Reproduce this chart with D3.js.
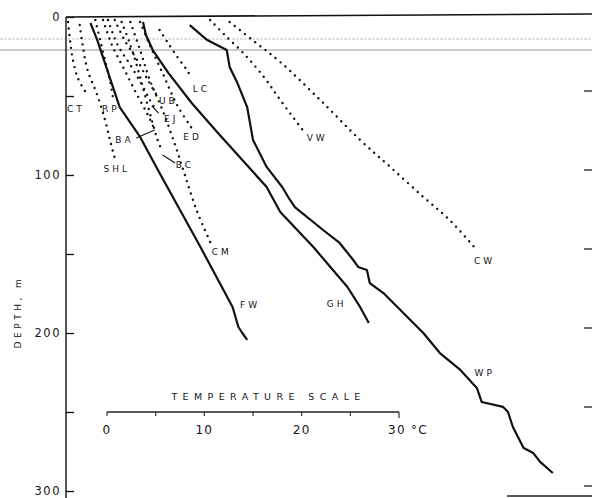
<!DOCTYPE html>
<html>
<head>
<meta charset="utf-8">
<script src="https://cdn.jsdelivr.net/npm/d3@7"></script>
<style>
body { margin: 0; background: #fff; }
svg { display: block; }
text { font-family: "DejaVu Sans", sans-serif; fill: #151515; }
</style>
</head>
<body>
<div id="chart"></div>
<script>
// each profile: [depth m, temperature on the offset scale °C]
var FW = [[3.8,-1.7],[14.6,-1.0],[57,1.3],[75.9,3.4],[98.7,5.4],[145.6,9.6],[183.5,12.9],[196.2,13.5],[200,13.9],[204.4,14.4]];
var GH = [[3.2,3.7],[11.4,4.0],[20.9,4.7],[35.4,6.3],[54.4,8.7],[73.4,11.4],[107.6,16.4],[123.4,17.8],[145.6,21.2],[170.9,24.7],[183.5,26.0],[193.7,26.9]];
var WP = [[5.1,8.5],[14.6,10.3],[20.9,12.3],[31.6,12.6],[41.8,13.4],[57,14.4],[77.8,15.0],[94.9,16.4],[107.6,18.0],[115.8,18.8],[120.3,19.3],[134.8,22.2],[143,23.9],[153.8,25.3],[158.2,25.8],[160.1,26.7],[168.4,27.0],[174.7,28.4],[200,32.5],[212.7,34.2],[223.4,36.3],[234.8,38.0],[243.7,38.5],[246.8,40.7],[250,41.2],[259.5,41.7],[272.8,42.8],[276,43.8],[281.6,44.5],[288.6,45.8]];

var CT = [[3.2,-4.0],[14.6,-3.8],[27.2,-3.5],[38.6,-3.0],[47.5,-2.2]];
var SHL = [[5.1,-2.8],[17.7,-2.5],[33.5,-2.0],[49.4,-1.0],[65.2,-0.2],[77.8,0.3],[89.2,0.8]];
var RP = [[1.9,-1.2],[14.6,-0.7],[27.2,-0.2],[39.9,0.3],[50.6,0.6]];
var BA = [[1.9,-0.4],[17.7,0.5],[33.5,1.8],[49.4,3.1],[62.0,4.2],[71.5,4.9]];
var EJ = [[1.9,0.1],[17.7,1.1],[30.4,2.4],[43.0,3.6],[52.5,4.4],[57.6,4.9]];
var UB = [[1.9,0.8],[14.6,1.8],[27.2,3.1],[39.9,4.2],[49.4,5.1]];
var BC = [[3.2,1.5],[17.7,2.4],[33.5,3.2],[49.4,3.9],[65.2,4.6],[77.8,5.2],[85.4,5.7]];
var CM = [[3.2,2.4],[20.9,3.4],[39.9,4.4],[58.9,5.7],[81.0,7.0],[100,8.0],[122.2,9.2],[142.4,10.6]];
var ED = [[3.2,3.4],[17.7,4.4],[36.7,5.8],[55.7,7.2],[70.3,8.7]];
var LC = [[8.2,5.4],[15.8,6.2],[25.9,7.3],[33.5,8.2],[38.6,8.7]];
var VW = [[1.9,10.6],[11.4,12.1],[24.1,14.2],[38.6,16.2],[52.5,17.8],[71.5,20.1]];
var CW = [[3.2,12.6],[15.8,15.2],[28.5,17.8],[52.5,21.9],[77.8,26.0],[94.9,29.1],[113.9,32.5],[128.5,35.2],[147.5,38.0]];

var solidProfiles = [FW, GH, WP];
var dottedProfiles = [CT, SHL, RP, BA, EJ, UB, BC, CM, ED, LC, VW, CW];

var labelNames = ["CT", "RP", "LC", "UB", "EJ", "ED", "BA", "SHL", "BC", "CM", "FW", "GH", "VW", "CW", "WP"];
var labelAt = [[58.2,-3.2],[58.2,0.4],[45.6,9.7],[53.2,6.3],[64.6,6.6],[75.9,8.8],[77.8,1.8],[96.2,1.0],[93.7,8.0],[148.7,11.8],[182.3,14.7],[181.6,23.6],[76.6,21.6],[154.4,38.8],[225.3,38.8]];
var leaders = [[[71.5,4.9],[76.6,3.0]], [[87.3,5.7],[92.4,7.0]], [[56.3,4.6],[60.8,5.3]]];

var depthTicks = [0, 50, 100, 150, 200, 250, 300];
var depthLabels = [0, 100, 200, 300];
var tempTicks = [0, 5, 10, 15, 20, 25, 30];
var tempLabels = [0, 10, 20, 30];
var scaleDepth = 250;

var W = 592, H = 498;
var x = d3.scaleLinear().domain([0, 30]).range([107, 399]);
var y = d3.scaleLinear().domain([0, 300]).range([17, 491]);
var axisX = 66;

var svg = d3.select("#chart").append("svg")
  .attr("width", W).attr("height", H);

// scan lines across the page
svg.append("line").attr("x1", 0).attr("x2", W).attr("y1", 39).attr("y2", 39)
  .style("stroke", "#c4c4c4").style("stroke-width", 1).style("stroke-dasharray", "3,1");
svg.append("line").attr("x1", 0).attr("x2", W).attr("y1", 50).attr("y2", 50)
  .style("stroke", "#9a9a9a").style("stroke-width", 1);

// frame: top and left
svg.append("line").attr("x1", axisX).attr("x2", W).attr("y1", y(0)).attr("y2", y(0) - 3)
  .style("stroke", "#111").style("stroke-width", 1.6);

var left = svg.append("g").attr("transform", "translate(" + axisX + ",0)")
  .call(d3.axisLeft(y).tickValues(depthTicks).tickSizeInner(-8).tickSizeOuter(0).tickPadding(5)
    .tickFormat(function (d) { return depthLabels.indexOf(d) >= 0 ? d : ""; }));
left.select(".domain").style("stroke", "#111").style("stroke-width", 1.4);
left.selectAll(".tick line").style("stroke", "#111").style("stroke-width", 1.3);
left.selectAll(".tick text").style("font-family", "DejaVu Sans, sans-serif")
  .style("font-size", "11.5px").style("letter-spacing", "1.5px").style("fill", "#151515");
left.select(".domain").attr("d", "M0," + y(0) + "V" + H);

// right side ticks
svg.selectAll(".rtick").data(depthTicks.slice(1)).enter().append("line")
  .attr("x1", 584).attr("x2", W)
  .attr("y1", function (d) { return y(d) - 5; }).attr("y2", function (d) { return y(d) - 5; })
  .style("stroke", "#222").style("stroke-width", 1.3);
svg.append("line").attr("x1", 507).attr("x2", W).attr("y1", H - 2).attr("y2", H - 2)
  .style("stroke", "#222").style("stroke-width", 1.3);

svg.append("text")
  .attr("transform", "translate(21," + 312 + ") rotate(-90)")
  .attr("text-anchor", "middle")
  .style("font-size", "9px").style("letter-spacing", "3.5px")
  .text("DEPTH, m");

var line = d3.line()
  .x(function (d) { return x(d[1]); })
  .y(function (d) { return y(d[0]); });

svg.selectAll(".solid").data(solidProfiles).enter().append("path")
  .attr("d", line.curve(d3.curveLinear))
  .style("fill", "none").style("stroke", "#111").style("stroke-width", 2.2)
  .style("stroke-linejoin", "round");

var smooth = d3.line()
  .x(function (d) { return x(d[1]); })
  .y(function (d) { return y(d[0]); })
  .curve(d3.curveCatmullRom);

svg.selectAll(".dotted").data(dottedProfiles).enter().append("path")
  .attr("d", smooth)
  .style("fill", "none").style("stroke", "#111").style("stroke-width", 2.4)
  .style("stroke-linecap", "round").style("stroke-dasharray", "0,6.5");

svg.selectAll(".leader").data(leaders).enter().append("path")
  .attr("d", line.curve(d3.curveLinear))
  .style("fill", "none").style("stroke", "#111").style("stroke-width", 1.1);

svg.selectAll(".lbl").data(labelNames).enter().append("text")
  .attr("x", function (d, i) { return x(labelAt[i][1]); })
  .attr("y", function (d, i) { return y(labelAt[i][0]); })
  .attr("dy", "0.35em")
  .attr("text-anchor", "middle")
  .style("font-size", "9px").style("letter-spacing", "3px")
  .text(function (d) { return d; });

// temperature scale bar
var sc = svg.append("g").attr("transform", "translate(0," + y(scaleDepth) + ")");
sc.append("line").attr("x1", x(0)).attr("x2", x(30))
  .style("stroke", "#222").style("stroke-width", 1.4);
sc.selectAll(".tt").data(tempTicks).enter().append("line")
  .attr("x1", function (d) { return x(d); }).attr("x2", function (d) { return x(d); })
  .attr("y1", 0).attr("y2", function (d, i) { return i == tempTicks.length - 1 ? 6 : 4; })
  .style("stroke", "#222").style("stroke-width", 1.1);
sc.selectAll(".tl").data(tempLabels).enter().append("text")
  .attr("x", function (d) { return x(d); })
  .attr("y", 22)
  .attr("text-anchor", function (d, i) { return i == tempLabels.length - 1 ? "start" : "middle"; })
  .attr("dx", function (d, i) { return i == tempLabels.length - 1 ? -11 : 0; })
  .style("font-size", "12px").style("letter-spacing", "1.3px")
  .text(function (d, i) { return i == tempLabels.length - 1 ? d + " \u00b0C" : d; });
sc.append("text")
  .attr("x", x(16.6)).attr("y", -12)
  .attr("text-anchor", "middle")
  .style("font-size", "9.5px").style("letter-spacing", "5.4px")
  .text("TEMPERATURE SCALE");
</script>
</body>
</html>
